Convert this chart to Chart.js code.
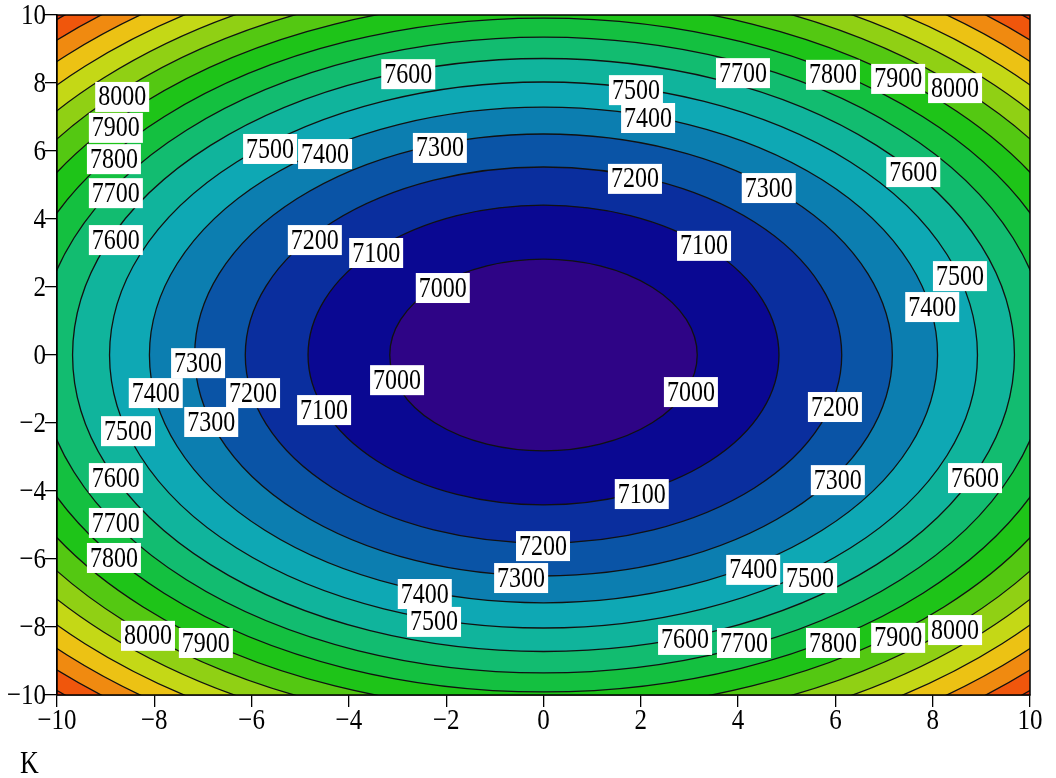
<!DOCTYPE html>
<html>
<head>
<meta charset="utf-8">
<script src="https://cdn.jsdelivr.net/npm/chart.js@4.4.0/dist/chart.umd.min.js"></script>
<style>
  html, body { margin: 0; padding: 0; background: #fff; }
</style>
</head>
<body>
<canvas id="contour" width="1056" height="778"></canvas>
<script>
// contour levels and the half-widths of each closed contour
const levels  = [7000, 7100, 7200, 7300, 7400, 7500, 7600, 7700, 7800, 7900, 8000, 8100, 8200, 8300, 8400, 8500];
const radiusX = [3.16, 4.84, 6.13, 7.17, 8.10, 8.92, 9.68, 10.38, 11.03, 11.65, 12.24, 12.79, 13.33, 13.85, 14.34, 14.82];
const radiusY = [2.82, 4.41, 5.53, 6.50, 7.29, 8.03, 8.72, 9.35, 9.91, 10.47, 11.01, 11.52, 12.01, 12.48, 12.93, 13.37];
const centerX = 0;
const centerY = 0;

// fill colour of the band inside each level (last one = outside the biggest contour)
const bandColors = [
  '#2e0486', '#0a0892', '#0a2e9e', '#0a54a6', '#0c7eb0', '#0ea8b4', '#10b49c',
  '#12bc70', '#14c040', '#1ec418', '#54c812', '#90d014', '#c4d816', '#ecc214',
  '#f08a10', '#f0560c', '#e0300a'
];

// inline contour labels
const labelText = ['7600', '7500', '7400', '7700', '7800', '7900', '8000', '8000', '7900', '7800', '7700', '7600',
  '7500', '7400', '7300', '7200', '7300', '7600', '7200', '7100', '7100', '7000', '7500', '7400',
  '7300', '7400', '7200', '7300', '7000', '7100', '7000', '7200', '7500', '7600', '7300', '7600',
  '7100', '7700', '7800', '7200', '7300', '7400', '7500', '7400', '7500', '8000', '7900', '7600',
  '7700', '7800', '7900', '8000'];
const labelX = [-2.78, 1.90, 2.15, 4.10, 5.95, 7.29, 8.46, -8.66, -8.79, -8.83, -8.79, -8.79,
  -5.62, -4.49, -2.13, 1.88, 4.63, 7.60, -4.70, -3.44, 3.30, -2.07, 8.56, 7.99,
  -7.10, -7.97, -5.97, -6.83, -3.01, -4.51, 3.03, 5.99, -8.54, -8.79, 6.05, 8.87,
  2.02, -8.79, -8.83, -0.01, -0.46, 4.31, 5.48, -2.44, -2.25, -8.13, -6.94, 2.91,
  4.12, 5.95, 7.29, 8.46];
const labelY = [8.26, 7.79, 6.97, 8.29, 8.24, 8.12, 7.85, 7.59, 6.68, 5.76, 4.76, 3.38,
  6.06, 5.91, 6.09, 5.18, 4.91, 5.38, 3.38, 3.00, 3.21, 1.97, 2.32, 1.41,
  -0.24, -1.12, -1.12, -1.97, -0.74, -1.62, -1.09, -1.53, -2.24, -3.62, -3.68, -3.62,
  -4.09, -4.94, -5.97, -5.62, -6.56, -6.32, -6.56, -7.03, -7.85, -8.26, -8.47, -8.38,
  -8.47, -8.47, -8.32, -8.09];

const axisMin = -10;
const axisMax = 10;
const axisStep = 2;
const xTitle = 'K';

const serif = '"Liberation Serif", "Times New Roman", serif';
const minus = v => (v < 0 ? '\u2212' + Math.abs(v) : String(v));
const stretch = 1.2; // the original's text is a bit taller than wide

// draw text slightly stretched vertically, centred on (px, py)
function tallText(ctx, str, px, py, size, align) {
  ctx.save();
  ctx.translate(px, py);
  ctx.scale(1, stretch);
  ctx.font = size + 'px ' + serif;
  ctx.textAlign = align;
  ctx.textBaseline = 'middle';
  ctx.fillText(str, 0, 0);
  ctx.restore();
}

const contourPlugin = {
  id: 'contour',
  beforeDatasetsDraw(chart) {
    const { ctx, chartArea: a, scales: { x, y } } = chart;
    ctx.save();
    ctx.beginPath();
    ctx.rect(a.left, a.top, a.right - a.left, a.bottom - a.top);
    ctx.clip();
    ctx.fillStyle = bandColors[levels.length];
    ctx.fillRect(a.left, a.top, a.right - a.left, a.bottom - a.top);
    const cx = x.getPixelForValue(centerX);
    const cy = y.getPixelForValue(centerY);
    for (let i = levels.length - 1; i >= 0; i--) {
      const rx = x.getPixelForValue(centerX + radiusX[i]) - cx;
      const ry = cy - y.getPixelForValue(centerY + radiusY[i]);
      ctx.beginPath();
      ctx.ellipse(cx, cy, rx, ry, 0, 0, Math.PI * 2);
      ctx.fillStyle = bandColors[i];
      ctx.fill();
      ctx.lineWidth = 1.3;
      ctx.strokeStyle = '#111';
      ctx.stroke();
    }
    ctx.restore();
  },
  afterDatasetsDraw(chart) {
    const { ctx, chartArea: a, scales: { x, y } } = chart;
    ctx.save();
    // contour labels
    for (let i = 0; i < labelText.length; i++) {
      const px = x.getPixelForValue(labelX[i]);
      const py = y.getPixelForValue(labelY[i]);
      ctx.fillStyle = '#fff';
      ctx.fillRect(px - 27, py - 15, 54, 30);
      ctx.fillStyle = '#000';
      tallText(ctx, labelText[i], px, py + 1, 24, 'center');
    }
    // frame
    ctx.lineWidth = 1.5;
    ctx.strokeStyle = '#000';
    ctx.strokeRect(a.left, a.top, a.right - a.left, a.bottom - a.top);
    // tick labels
    ctx.fillStyle = '#000';
    x.ticks.forEach(t => tallText(ctx, minus(t.value), x.getPixelForValue(t.value), a.bottom + 26, 25, 'center'));
    y.ticks.forEach(t => tallText(ctx, minus(t.value), a.left - 11, y.getPixelForValue(t.value) + 1, 25, 'right'));
    // axis title, sits left of the plot like the original
    tallText(ctx, xTitle, a.left - 37, a.bottom + 70, 26, 'left');
    ctx.restore();
  }
};

const axisOpts = (fit) => ({
  type: 'linear',
  min: axisMin,
  max: axisMax,
  ticks: { stepSize: axisStep, display: false },
  grid: { drawOnChartArea: false, drawTicks: true, tickLength: 12, color: '#000', lineWidth: 1.3 },
  border: { color: '#000', width: 1.5 },
  afterFit: fit
});

new Chart(document.getElementById('contour'), {
  type: 'scatter',
  data: { datasets: [] },
  options: {
    responsive: false,
    animation: false,
    devicePixelRatio: 1,
    layout: { padding: { top: 15, right: 26, left: 0, bottom: 0 } },
    plugins: { legend: { display: false }, tooltip: { enabled: false } },
    scales: {
      x: axisOpts(s => { s.height = 83; }),
      y: axisOpts(s => { s.width = 57; })
    }
  },
  plugins: [contourPlugin]
});
</script>
</body>
</html>
